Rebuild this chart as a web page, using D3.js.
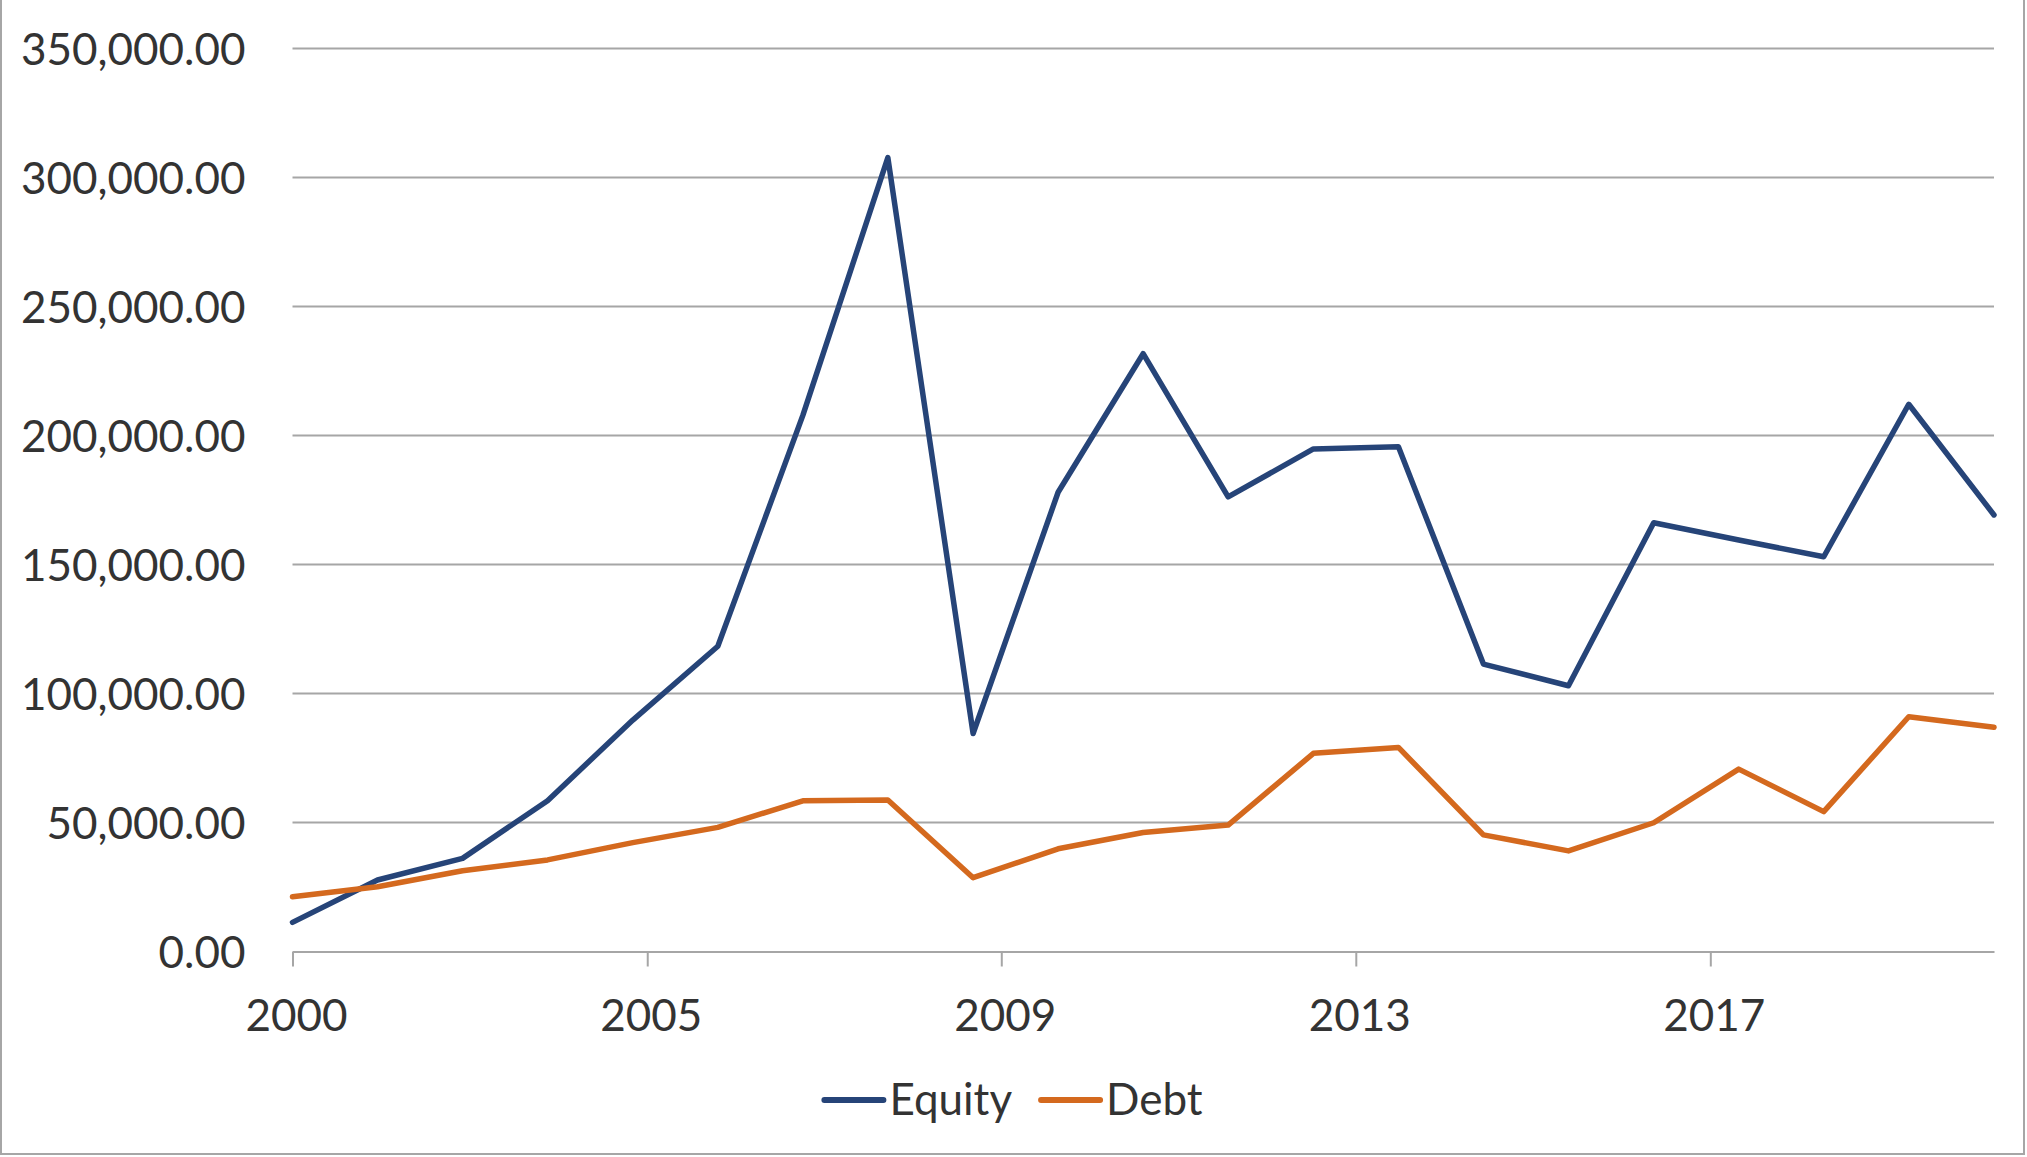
<!DOCTYPE html>
<html lang="en">
<head>
    <meta charset="UTF-8">
    <title>Equity and Debt</title>
    <script src="https://d3js.org/d3.v7.min.js"></script>
    <style>
        body {
            margin: 0;
            background: #fff;
        }

        svg text {
            font-family: Lato, "Open Sans", sans-serif;
            fill: #333;
        }

        .axis-label {
            font-size: 44px;
        }

        .legend text {
            font-size: 44px;
        }
    </style>
</head>
<body>
    <div id="chart"></div>
    <script>
        const years = [2000, 2001, 2002, 2003, 2004, 2005, 2006, 2007, 2008, 2009, 2010,
                       2011, 2012, 2013, 2014, 2015, 2016, 2017, 2018, 2019, 2020];
        const equity = [11300, 27700, 36100, 58450, 89700, 118300, 207800, 307700, 84500, 178000, 231700,
                        176200, 194800, 195600, 111400, 103000, 166200, 159500, 153000, 212100, 169200];
        const debt = [21200, 25100, 31300, 35500, 42200, 48100, 58400, 58700, 28600, 39800, 46100,
                      49000, 76800, 79100, 45200, 39000, 49900, 70700, 54200, 91000, 86900];
        const seriesNames = ["Equity", "Debt"];
        const seriesColors = ["#264478", "#D4691E"];
        const yTicks = [0, 50000, 100000, 150000, 200000, 250000, 300000, 350000];
        // date axis: labels every 50 months from first point
        const tickLabels = ["2000", "2005", "2009", "2013", "2017"];
        const tickMonthStep = 50;

        const fullWidth = 2027;
        const fullHeight = 1157;
        const margin = { top: 48.5, right: 33, bottom: 205.5, left: 292.5 };
        const width = fullWidth - margin.left - margin.right;
        const height = fullHeight - margin.top - margin.bottom;

        const root = d3.select("#chart")
            .append("svg")
            .attr("width", fullWidth)
            .attr("height", fullHeight);

        // chart border
        root.append("rect")
            .attr("x", 1)
            .attr("y", -2)
            .attr("width", fullWidth - 4)
            .attr("height", fullHeight - 1)
            .attr("fill", "none")
            .attr("stroke", "#a6a6a6")
            .attr("stroke-width", 2);

        const svg = root.append("g")
            .attr("transform", `translate(${margin.left},${margin.top})`);

        const dates = years.map(y => new Date(y, 11, 1));
        const tickDates = tickLabels.map((d, i) => d3.timeMonth.offset(dates[0], i * tickMonthStep));

        const x = d3.scaleTime()
            .domain(d3.extent(dates))
            .range([0, width]);

        const y = d3.scaleLinear()
            .domain([0, d3.max(yTicks)])
            .range([height, 0]);

        // gridlines
        svg.append("g")
            .selectAll("line")
            .data(yTicks.filter(d => d > 0))
            .enter()
            .append("line")
            .attr("x1", 0)
            .attr("x2", width)
            .attr("y1", d => y(d))
            .attr("y2", d => y(d))
            .attr("stroke", "#a6a6a6")
            .attr("stroke-width", 2);

        // y axis labels
        const yAxis = svg.append("g")
            .call(d3.axisLeft(y).tickValues(yTicks).tickFormat(d3.format(",.2f")).tickSize(0).tickPadding(47));
        yAxis.select(".domain").remove();
        yAxis.selectAll("text")
            .attr("class", "axis-label")
            .attr("font-size", null)
            .attr("font-family", null)
            .attr("fill", null)
            .attr("dy", "0.36em");

        // x axis
        const xAxis = svg.append("g")
            .attr("transform", `translate(0,${height})`)
            .call(d3.axisBottom(x).tickValues(tickDates).tickFormat((d, i) => tickLabels[i])
                .tickSizeInner(15).tickSizeOuter(0).tickPadding(33));
        xAxis.select(".domain")
            .attr("stroke", "#a6a6a6")
            .attr("stroke-width", 2);
        xAxis.selectAll(".tick line")
            .attr("stroke", "#a6a6a6")
            .attr("stroke-width", 2);
        xAxis.selectAll("text")
            .attr("class", "axis-label")
            .attr("font-size", null)
            .attr("font-family", null)
            .attr("fill", null)
            .attr("dx", "0.08em");

        // lines
        const line = d3.line()
            .x((d, i) => x(dates[i]))
            .y(d => y(d));

        [equity, debt].forEach((values, k) => {
            svg.append("path")
                .datum(values)
                .attr("fill", "none")
                .attr("stroke", seriesColors[k])
                .attr("stroke-width", 5.5)
                .attr("stroke-linejoin", "round")
                .attr("stroke-linecap", "round")
                .attr("d", line);
        });

        // legend
        const swatch = 59;
        const swatchGap = 6;
        const itemGap = 29;
        const legend = root.append("g")
            .attr("class", "legend")
            .attr("transform", `translate(0, 1100)`);

        const items = seriesNames.map((name, k) => {
            const g = legend.append("g");
            g.append("line")
                .attr("x1", 0)
                .attr("x2", swatch)
                .attr("stroke", seriesColors[k])
                .attr("stroke-width", 6)
                .attr("stroke-linecap", "round");
            const t = g.append("text")
                .attr("x", swatch + swatchGap)
                .attr("dy", "0.35em")
                .text(name);
            return { g: g, w: swatch + swatchGap + t.node().getComputedTextLength() };
        });

        const total = d3.sum(items, d => d.w) + itemGap * (items.length - 1);
        let cx = (fullWidth - total) / 2;
        items.forEach(it => {
            it.g.attr("transform", `translate(${cx},0)`);
            cx += it.w + itemGap;
        });
    </script>
</body>
</html>
